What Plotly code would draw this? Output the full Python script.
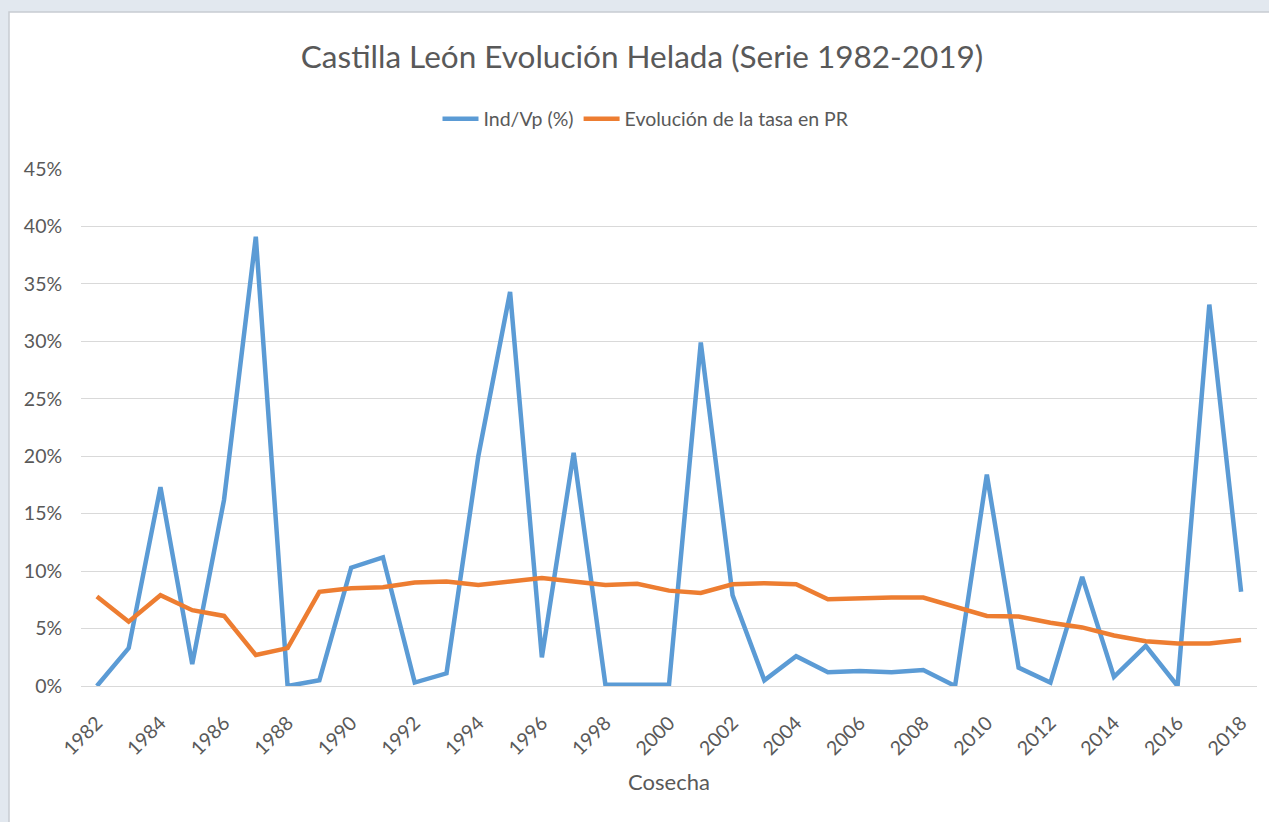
import plotly.graph_objects as go

years = list(range(1982, 2019))
ind_vp = [0.0, 3.3, 17.3, 1.9, 16.2, 39.1, 0.0, 0.5, 10.3, 11.2, 0.3, 1.1, 20.0, 34.3,
          2.5, 20.3, 0.1, 0.1, 0.1, 29.9, 7.9, 0.5, 2.6, 1.2, 1.3, 1.2, 1.4, 0.0,
          18.4, 1.6, 0.3, 9.5, 0.8, 3.5, 0.0, 33.2, 8.2]
tasa_pr = [7.8, 5.6, 7.9, 6.6, 6.1, 2.7, 3.3, 8.2, 8.5, 8.6, 9.0, 9.1, 8.8, 9.1,
           9.4, 9.1, 8.8, 8.9, 8.3, 8.1, 8.85, 8.95, 8.85, 7.55, 7.65, 7.7, 7.7, 6.9,
           6.1, 6.05, 5.5, 5.1, 4.4, 3.9, 3.7, 3.7, 4.0]
tick_years = list(range(1982, 2019, 2))

title_text = "Castilla León Evolución Helada (Serie 1982-2019)"
name_a = "Ind/Vp (%)"
name_b = "Evolución de la tasa en PR"
x_title = "Cosecha"

FONT = "Lato"
GRAY = "#595959"

fig = go.Figure()
fig.add_trace(go.Scatter(x=years, y=ind_vp, mode="lines", name=name_a,
                         line=dict(color="#5b9bd5", width=4.5)))
fig.add_trace(go.Scatter(x=years, y=tasa_pr, mode="lines", name=name_b,
                         line=dict(color="#ed7d31", width=4.5)))

W, H = 1269, 822
L, R, T, B = 81, 12, 169, 136
pw, ph = W - L - R, H - T - B

def px_x(p):
    return (p - L) / pw

def px_y(p):
    return (H - B - p) / ph

shapes = [
    dict(type="rect", xref="paper", yref="paper", layer="below",
         x0=px_x(9), x1=px_x(W + 5), y0=px_y(H + 5), y1=px_y(12),
         fillcolor="white", line=dict(color="#c8ccd2", width=1.5)),
]

fig.update_layout(
    width=W, height=H,
    margin=dict(l=L, r=R, t=T, b=B),
    paper_bgcolor="#e2e8ef",
    plot_bgcolor="rgba(0,0,0,0)",
    shapes=shapes,
    font=dict(family=FONT, color=GRAY),
    title=dict(text=title_text, xref="container", x=642 / W, xanchor="center",
               yref="container", y=1 - 57 / H, yanchor="middle",
               font=dict(family=FONT, size=31.5, color=GRAY)),
    legend=dict(orientation="h", xref="paper", yref="paper",
                x=px_x(646), xanchor="center", y=px_y(119), yanchor="middle",
                font=dict(family=FONT, size=19.5, color=GRAY),
                bgcolor="rgba(0,0,0,0)", itemwidth=36, tracegroupgap=0),
    showlegend=True,
)

fig.update_xaxes(
    range=[1981.5, 2018.5], tickvals=tick_years, ticktext=[str(y) for y in tick_years],
    tickangle=-45, tickfont=dict(family=FONT, size=19.5, color=GRAY),
    showgrid=False, zeroline=False, showline=False,
    ticks="outside", ticklen=17, tickcolor="rgba(0,0,0,0)",
    title=dict(text=x_title, font=dict(family=FONT, size=22, color=GRAY), standoff=16),
)
fig.update_yaxes(
    range=[0, 45], dtick=5, ticksuffix="%",
    tickfont=dict(family=FONT, size=19.5, color=GRAY),
    showgrid=True, gridcolor="#d9d9d9", gridwidth=1,
    zeroline=True, zerolinecolor="#d9d9d9", zerolinewidth=1,
    showline=False, ticks="outside", ticklen=14, tickcolor="rgba(0,0,0,0)",
)

fig.write_html("out.html",
               config={"displayModeBar": False},
               post_script="document.body.style.margin='0px';"
                           "document.body.style.background='#e2e8ef';"
                           "document.body.style.overflow='hidden';")
